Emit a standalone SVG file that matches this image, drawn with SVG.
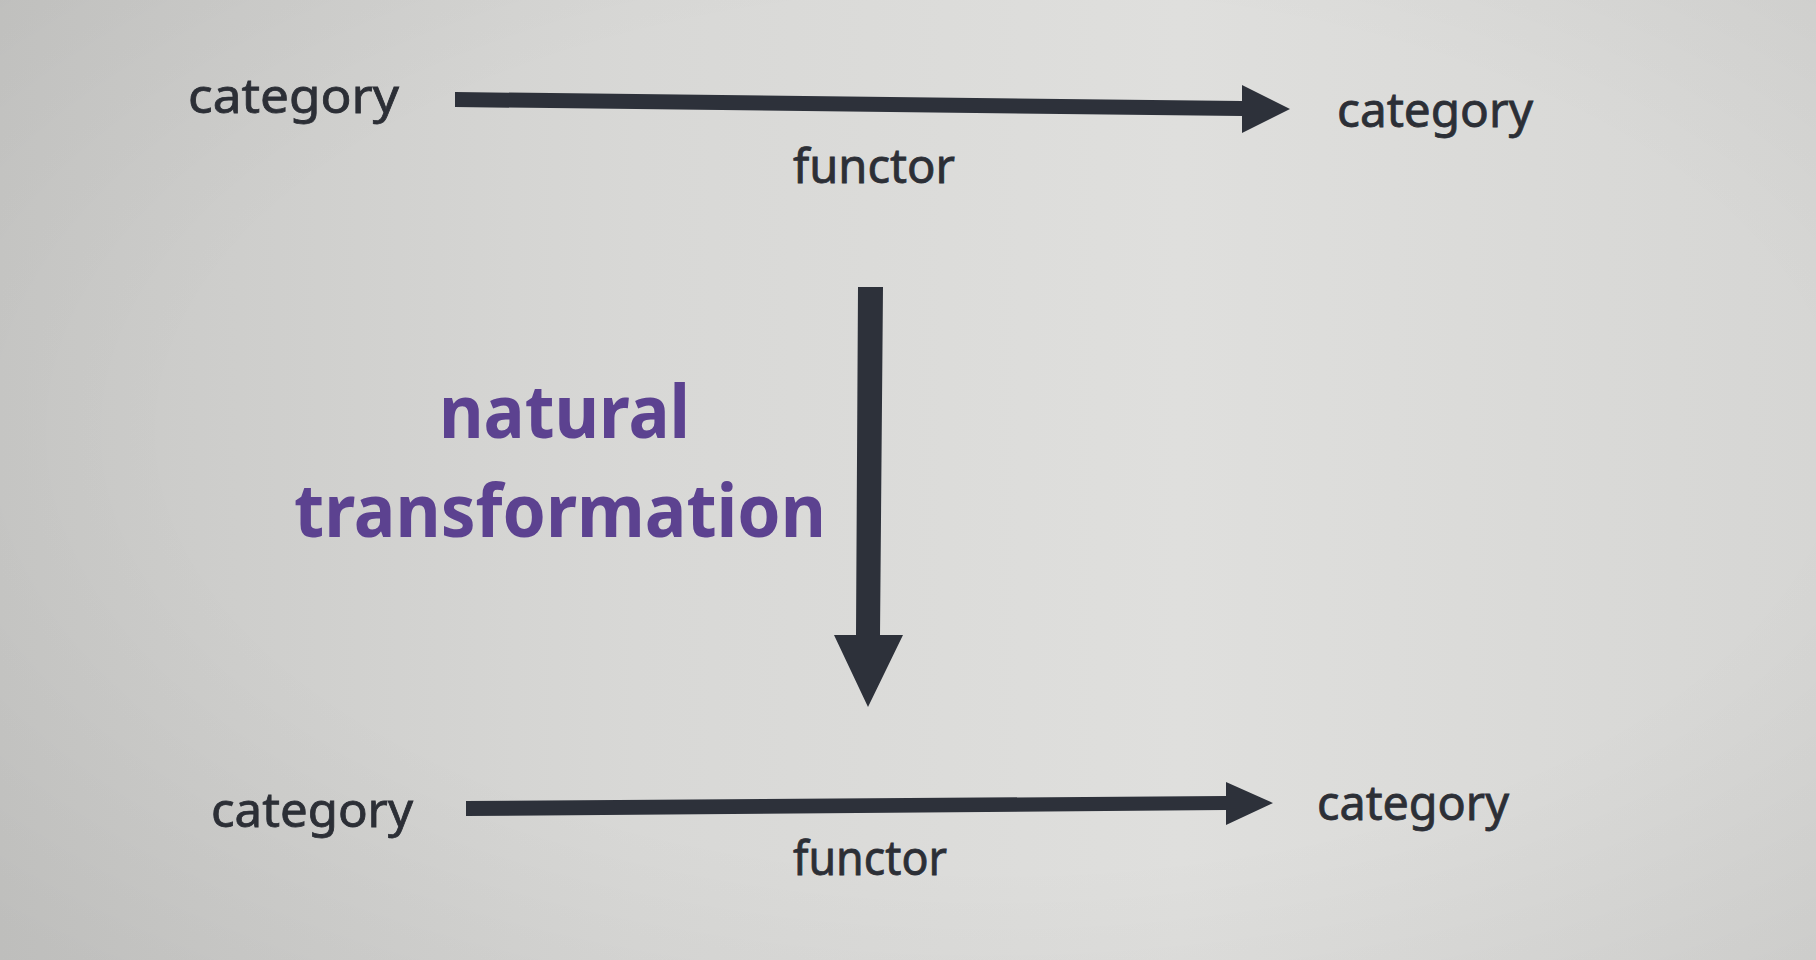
<svg xmlns="http://www.w3.org/2000/svg" width="1816" height="960" viewBox="0 0 1816 960">
  <defs>
    <linearGradient id="bg" x1="0" y1="0" x2="1" y2="0">
      <stop offset="0" stop-color="#c8c8c6"/>
      <stop offset="0.35" stop-color="#d8d8d6"/>
      <stop offset="0.65" stop-color="#dfdfdd"/>
      <stop offset="1" stop-color="#d6d6d4"/>
    </linearGradient>
    <radialGradient id="vig" cx="0.55" cy="0.45" r="0.75">
      <stop offset="0.6" stop-color="#000" stop-opacity="0"/>
      <stop offset="1" stop-color="#000" stop-opacity="0.05"/>
    </radialGradient>
  </defs>
  <style>
    .lbl { font-family: "Noto Sans", "Open Sans", sans-serif; font-size: 48px; fill: #2c2f36; stroke: #2c2f36; stroke-width: 0.8px; }
    .nat { font-family: "Noto Sans", "Open Sans", sans-serif; font-size: 74px; font-weight: bold; fill: #5c4290; }
    .arr { fill: #2d313a; }
  </style>
  <rect x="0" y="0" width="1816" height="960" fill="url(#bg)"/>
  <rect x="0" y="0" width="1816" height="960" fill="url(#vig)"/>

  <g id="connectors">
    <polygon id="functor-top" class="arr" points="455,92 1242,101 1242,85 1290,109 1242,133 1242,116 455,107"/>
    <polygon id="natural-transformation-arrow" class="arr" points="858,287 883,287 880,635 903,635 868,707 834,635 856,635"/>
    <polygon id="functor-bottom" class="arr" points="466,801 1226,796 1226,782 1273,803 1226,825 1226,810 466,816"/>
  </g>

  <g id="category-top-left">
    <text class="lbl" x="188" y="113" textLength="211" lengthAdjust="spacingAndGlyphs">category</text>
  </g>
  <g id="category-top-right">
    <text class="lbl" x="1337" y="127" textLength="196" lengthAdjust="spacingAndGlyphs">category</text>
  </g>
  <g id="functor-top-label">
    <text class="lbl" x="793" y="183" textLength="162" lengthAdjust="spacingAndGlyphs">functor</text>
  </g>
  <g id="natural-transformation-label">
    <text class="nat" x="439" y="438" textLength="251" lengthAdjust="spacingAndGlyphs">natural</text>
    <text class="nat" x="294" y="537" textLength="532" lengthAdjust="spacingAndGlyphs">transformation</text>
  </g>
  <g id="category-bottom-left">
    <text class="lbl" x="211" y="827" textLength="202" lengthAdjust="spacingAndGlyphs">category</text>
  </g>
  <g id="category-bottom-right">
    <text class="lbl" x="1317" y="820" textLength="192" lengthAdjust="spacingAndGlyphs">category</text>
  </g>
  <g id="functor-bottom-label">
    <text class="lbl" x="793" y="875" textLength="154" lengthAdjust="spacingAndGlyphs">functor</text>
  </g>
</svg>
